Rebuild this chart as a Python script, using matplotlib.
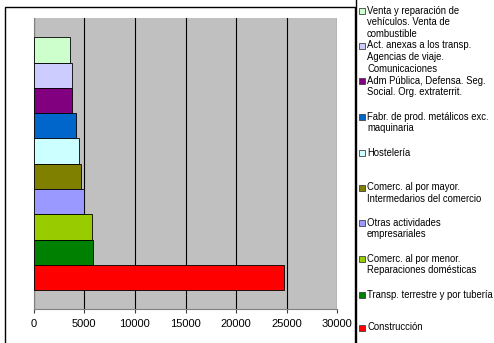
import matplotlib
matplotlib.use("Agg")
import matplotlib.pyplot as plt
from matplotlib.patches import Rectangle
from matplotlib.lines import Line2D

# sectors, top bar first
sectors = [
    "Venta y reparación de\nvehículos. Venta de\ncombustible",
    "Act. anexas a los transp.\nAgencias de viaje.\nComunicaciones",
    "Adm Pública, Defensa. Seg.\nSocial. Org. extraterrit.",
    "Fabr. de prod. metálicos exc.\nmaquinaria",
    "Hostelería",
    "Comerc. al por mayor.\nIntermedarios del comercio",
    "Otras actividades\nempresariales",
    "Comerc. al por menor.\nReparaciones domésticas",
    "Transp. terrestre y por tubería",
    "Construcción",
]
values = [3600, 3800, 3800, 4200, 4500, 4700, 5000, 5800, 5900, 24700]
colors = ["#CCFFCC", "#CCCCFF", "#800080", "#0066CC", "#CCFFFF",
          "#808000", "#9999FF", "#99CC00", "#008000", "#FF0000"]
ticks = [0, 5000, 10000, 15000, 20000, 25000, 30000]
legend_y = [11, 46, 81, 117, 153, 188, 223, 259, 295, 328]  # px from top

plt.rcParams["font.family"] = ["Liberation Sans", "DejaVu Sans"]

W, H = 494, 343
fig = plt.figure(figsize=(W / 100, H / 100), dpi=100)

# outer chart frame and legend box
fig.patches.append(Rectangle((5 / W, -0.05), 350 / W, 1.05 - 6.7 / H,
                             transform=fig.transFigure, fill=False,
                             edgecolor="black", linewidth=1.0))
fig.add_artist(Line2D([355.5 / W, 355.5 / W], [0, 1], transform=fig.transFigure,
                      color="black", linewidth=1.0))

ax = fig.add_axes([33.7 / W, 1 - 309.3 / H, 303.6 / W, 291 / H])
ax.set_facecolor("#C0C0C0")

n = len(values)
ypos = [n - 1 - i for i in range(n)]
ax.barh(ypos, values, height=1.0, color=colors, edgecolor="black",
        linewidth=0.6, zorder=3)

ax.set_xlim(0, 30000)
ax.set_ylim(-1.25, n + 0.25)
ax.set_xticks(ticks)
ax.set_xticklabels([str(t) for t in ticks], fontsize=8)
ax.xaxis.grid(True, color="black", linewidth=0.8, zorder=1)
ax.set_axisbelow(True)
ax.set_yticks([])
ax.tick_params(axis="x", length=3, color="#404040", pad=4)
for s in ["top", "right"]:
    ax.spines[s].set_visible(False)
ax.spines["left"].set_color("#808080")
ax.spines["bottom"].set_color("#808080")

# legend, drawn by hand to follow the original spacing
for lab, col, y in zip(sectors, colors, legend_y):
    fig.patches.append(Rectangle((359 / W, 1 - (y + 3) / H), 6 / W, 6 / H,
                                 transform=fig.transFigure, facecolor=col,
                                 edgecolor="#404040", linewidth=0.6))
    fig.text(367 / W, 1 - (y - 5.5) / H, lab, fontsize=6.85, va="top", ha="left",
             linespacing=1.22)

fig.savefig("out.png", dpi=100)
